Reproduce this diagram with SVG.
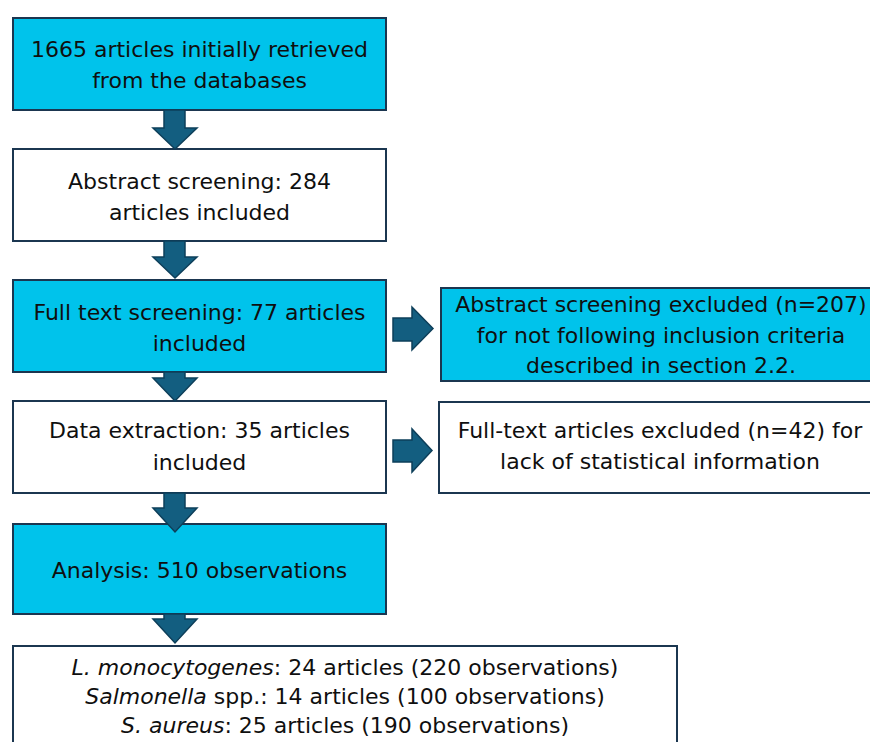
<svg xmlns="http://www.w3.org/2000/svg" width="870" height="742" viewBox="0 0 870 742">
<style>
.box{stroke:#1b3650;stroke-width:2}
.cyan{fill:#00c3eb}
.white{fill:#ffffff}
.arr{fill:#135e80;stroke:#0d3f5a;stroke-width:1.5;stroke-linejoin:miter}
text{font-family:"DejaVu Sans","Open Sans",sans-serif;font-size:22px;fill:#0f0f0f;text-anchor:middle}
.it{font-style:italic}
</style>
<rect width="870" height="742" fill="#ffffff"/>
<g id="n1"><rect class="box cyan" x="13" y="18" width="373" height="92"/>
<text x="199.5" y="57">1665 articles initially retrieved</text>
<text x="199.5" y="88">from the databases</text></g>
<g id="n2"><rect class="box white" x="13" y="149" width="373" height="92"/>
<text x="199.5" y="189">Abstract screening: 284</text>
<text x="199.5" y="220">articles included</text></g>
<g id="n3"><rect class="box cyan" x="13" y="280" width="373" height="92"/>
<text x="199.5" y="320">Full text screening: 77 articles</text>
<text x="199.5" y="351">included</text></g>
<g id="n4"><rect class="box white" x="13" y="401" width="373" height="92"/>
<text x="199.5" y="438">Data extraction: 35 articles</text>
<text x="199.5" y="470">included</text></g>
<g id="n5"><rect class="box cyan" x="13" y="524" width="373" height="90"/>
<text x="199.5" y="578">Analysis: 510 observations</text></g>
<g id="n6"><rect class="box white" x="13" y="646" width="664" height="110"/>
<text x="345" y="675"><tspan class="it">L. monocytogenes</tspan>: 24 articles (220 observations)</text>
<text x="345" y="704"><tspan class="it">Salmonella</tspan> spp.: 14 articles (100 observations)</text>
<text x="345" y="733"><tspan class="it">S. aureus</tspan>: 25 articles (190 observations)</text></g>
<g id="r1"><rect class="box cyan" x="441" y="288" width="440" height="93"/>
<text x="661" y="312">Abstract screening excluded (n=207)</text>
<text x="661" y="343">for not following inclusion criteria</text>
<text x="661" y="373">described in section 2.2.</text></g>
<g id="r2"><rect class="box white" x="439" y="402" width="440" height="91"/>
<text x="660" y="438">Full-text articles excluded (n=42) for</text>
<text x="660" y="469">lack of statistical information</text></g>
<g id="connectors">
<path class="arr" d="M164,110 H185 V128 H197 L175,149 L153,128 H164 Z"/>
<path class="arr" d="M164,241 H185 V257 H197 L175,278 L153,257 H164 Z"/>
<path class="arr" d="M164,372 H185 V378 H197 L175,401 L153,378 H164 Z"/>
<path class="arr" d="M164,493 H185 V508 H197 L175,532 L153,508 H164 Z"/>
<path class="arr" d="M164,614 H185 V619 H197 L175,643 L153,619 H164 Z"/>
<path class="arr" d="M393,318 H412 V307 L433,328.5 L412,350 V341 H393 Z"/>
<path class="arr" d="M393,440 H412 V429 L432,450.5 L412,472 V462 H393 Z"/>
</g>
</svg>
